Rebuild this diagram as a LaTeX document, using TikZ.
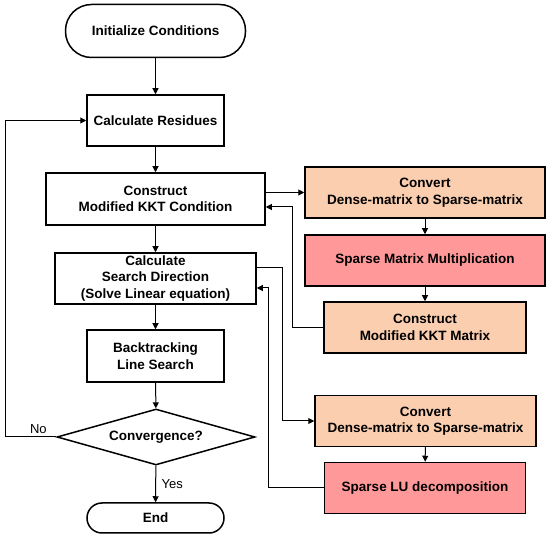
\documentclass[tikz,border=0pt]{standalone}
\usepackage{fontspec}
\setmainfont{Liberation Sans}
\usetikzlibrary{shapes.geometric, arrows.meta}
\definecolor{peach}{RGB}{250,206,175}
\definecolor{rosered}{RGB}{255,153,153}

\begin{document}
\begin{tikzpicture}[x=1pt,y=-1pt,
		box/.style={draw, line width=1.5pt, align=center, inner sep=0pt, font=\fontsize{13.5}{16.5}\selectfont\bfseries},
		term/.style={box, rounded corners=#1},
		peachbox/.style={box, fill=peach},
		redbox/.style={box, fill=rosered},
		flow/.style={line width=1pt, -{Triangle[length=6pt,width=6pt]}},
		tag/.style={font=\fontsize{13}{15}\selectfont}]
		\useasboundingbox (0,0) rectangle (550,537);
		% Main loop
		\node[term=26pt, minimum width=180pt, minimum height=53pt] (init) at (155.5,31) {Initialize Conditions};
		\node[box, minimum width=137pt, minimum height=51pt] (res) at (155.5,120.5) {Calculate Residues};
		\node[box, minimum width=219pt, minimum height=52pt] (kkt) at (155.5,199) {Construct\\Modified KKT Condition};
		\node[box, minimum width=201pt, minimum height=51pt] (dir) at (155.5,278.5) {Calculate\\Search Direction\\(Solve Linear equation)};
		\node[box, minimum width=137pt, minimum height=52pt] (back) at (155.5,356) {Backtracking\\Line Search};
		\node[box, diamond, aspect=3.5, minimum width=198pt, minimum height=56pt] (conv) at (156,437) {Convergence?};
		\node[term=15pt, minimum width=137pt, minimum height=30pt] (end) at (155.5,518) {End};
		% Sparse routines
		\node[peachbox, minimum width=240pt, minimum height=51pt] (dense1) at (425,192.5) {Convert\\Dense-matrix to Sparse-matrix};
		\node[redbox, minimum width=240pt, minimum height=51pt] (mult) at (425,260.5) {Sparse Matrix Multiplication};
		\node[peachbox, minimum width=202pt, minimum height=51pt] (kktmat) at (425,327.5) {Construct\\Modified KKT Matrix};
		\node[peachbox, minimum width=221pt, minimum height=51pt] (dense2) at (425.5,421) {Convert\\Dense-matrix to Sparse-matrix};
		\node[redbox, minimum width=201pt, minimum height=51pt] (lu) at (425,488) {Sparse LU decomposition};
		% Vertical flow
		\draw[flow] (init) -- (res);
		\draw[flow] (res) -- (kkt);
		\draw[flow] (kkt) -- (dir);
		\draw[flow] (dir) -- (back);
		\draw[flow] (back) -- (conv);
		\draw[flow] (conv) -- node[tag, right, xshift=2pt] {Yes} (end);
		\draw[flow] (conv.west) -- node[tag, above, pos=0.35] {No} ++(-51,0) |- (res.west);
		% Side branches
		\draw[flow] (kkt.east |- dense1.west) -- (dense1.west);
		\draw[flow] (dense1) -- (mult);
		\draw[flow] (mult) -- (kktmat);
		\draw[flow] (kktmat.west) -- ++(-31,0) |- ([yshift=-8pt]kkt.east);
		\draw[flow] ([yshift=10.5pt]dir.east) -- ++(26,0) |- (dense2.west);
		\draw[flow] (dense2) -- (lu);
		\draw[flow] (lu.west) -- ++(-55,0) |- ([yshift=-9.5pt]dir.east);
	\end{tikzpicture}
\end{document}
